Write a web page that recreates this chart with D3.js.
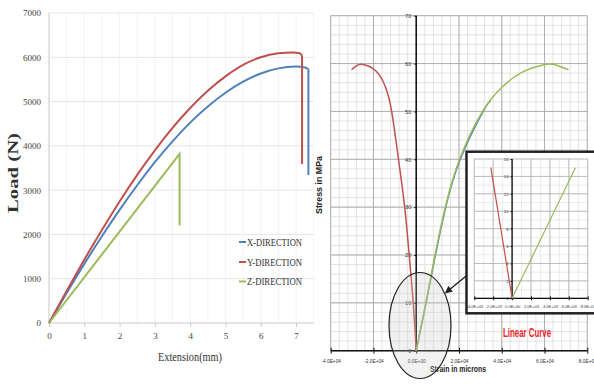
<!DOCTYPE html>
<html><head><meta charset="utf-8">
<script src="https://cdn.jsdelivr.net/npm/d3@7"></script>
<style>body{margin:0;background:#fff}svg{display:block}</style>
</head><body>
<svg id="c" width="594" height="386"></svg>
<script>
// ---------- Left chart data (Load vs Extension) ----------
const extX  = [0,0.5,1,1.5,2,2.5,3,3.5,4,4.5,5,5.5,6,6.5,7,7.25,7.35,7.35];
const loadX = [0,680,1335,1960,2555,3110,3630,4100,4525,4890,5200,5450,5635,5750,5790,5770,5730,3340];
const extY  = [0,0.5,1,1.5,2,2.5,3,3.5,4,4.5,5,5.5,6,6.5,6.9,7.1,7.17,7.17];
const loadY = [0,725,1430,2100,2745,3345,3900,4405,4855,5245,5570,5830,6000,6090,6110,6090,6040,3590];
const extZ  = [0,3.7,3.7];
const loadZ = [0,3820,2200];
const seriesNames = ["X-DIRECTION","Y-DIRECTION","Z-DIRECTION"];
const seriesColors = ["#4f81bd","#c0504d","#9bbb59"];
const loadTicks = [0,1000,2000,3000,4000,5000,6000,7000];
const extTicks = [0,1,2,3,4,5,6,7];

// ---------- Right chart data (Stress vs Strain) ----------
const strainRed   = [0,-1400,-3300,-5400,-8300,-11500,-14300,-18500,-24800,-28000,-30300];
const stressRed   = [0,10,20,30,40,50,55,58.3,59.8,59.5,58.7];
const strainGreen = [0,4500,8800,13600,20300,31000,40000,48800,60300,66000,71200];
const stressGreen = [0,10,20,30,40,50,55,58,59.8,59.6,58.7];
const strainBlue  = [0,4600,8950,13800,20600,31300,35000];
const stressBlue  = [0,10,20,30,40,50,52.3];
const strainTicks = [-40000,-20000,0,20000,40000,60000,80000];
const strainLabels = ["-4.0E+04","-2.0E+04","0.0E+00","2.0E+04","4.0E+04","6.0E+04","8.0E+04"];
const stressTicks = [0,10,20,30,40,50,60,70];

// ---------- Inset data ----------
const insetStrainRed = [0,-2250];
const insetStressRed = [0,15];
const insetStrainGreen = [0,6700];
const insetStressGreen = [0,15];
const insetStrainTicks = [-4000,-2000,0,2000,4000,6000,8000];
const insetStrainLabels = ["-4.0E+03","-2.0E+03","0.0E+00","2.0E+03","4.0E+03","6.0E+03","8.0E+03"];
const insetStressTicks = [0,2,4,6,8,10,12,14,16];

const svg = d3.select("#c");
const zip = (a,b)=>a.map((v,i)=>[v,b[i]]);

// =============== LEFT CHART ===============
const xL = d3.scaleLinear().domain([0,7.5]).range([49,313.7]);
const yL = d3.scaleLinear().domain([0,7000]).range([323,13]);
const gL = svg.append("g");
gL.selectAll(".vg").data(d3.range(0.5,7.6,0.5)).join("line")
  .attr("x1",d=>xL(d)).attr("x2",d=>xL(d)).attr("y1",yL(7000)).attr("y2",yL(0))
  .attr("stroke","#f3f3f3").attr("stroke-width",1);
gL.selectAll(".hg").data(loadTicks.slice(1)).join("line")
  .attr("x1",xL(0)).attr("x2",xL(7.5)).attr("y1",d=>yL(d)).attr("y2",d=>yL(d))
  .attr("stroke","#e6e6e6").attr("stroke-width",1);
const gax = gL.append("g").attr("transform",`translate(0,${yL(0)})`)
  .call(d3.axisBottom(xL).tickValues(extTicks).tickSize(4).tickPadding(6).tickFormat(d3.format("d")));
const gay = gL.append("g").attr("transform",`translate(${xL(0)},0)`)
  .call(d3.axisLeft(yL).tickValues(loadTicks).tickSize(0).tickPadding(8).tickFormat(d3.format("d")));
[gax,gay].forEach(g=>{
  g.select(".domain").attr("stroke","#c8c8c8");
  g.selectAll(".tick line").attr("stroke","#c8c8c8");
  g.selectAll("text").attr("font-family","Liberation Serif").attr("font-size",9).attr("fill","#444");
});
gay.select(".domain").attr("d",`M0,${yL(7000)}V${yL(0)}`);
gax.select(".domain").attr("d",`M${xL(0)},0H${xL(7.5)}`);

const bodyLine = d3.line().x(d=>xL(d[0])).y(d=>yL(d[1])).curve(d3.curveMonotoneX);
const linL = d3.line().x(d=>xL(d[0])).y(d=>yL(d[1]));
function drawLoad(xs, ys, color){
  const pts = zip(xs, ys);
  const body = pts.slice(0, -1), drop = pts.slice(-2);
  gL.append("path").attr("d",bodyLine(body)).attr("fill","none").attr("stroke",color).attr("stroke-width",2);
  gL.append("path").attr("d",linL(drop)).attr("fill","none").attr("stroke",color).attr("stroke-width",2);
}
drawLoad(extX, loadX, seriesColors[0]);
drawLoad(extY, loadY, seriesColors[1]);
gL.append("path").attr("d",linL(zip(extZ,loadZ))).attr("fill","none").attr("stroke",seriesColors[2]).attr("stroke-width",2);

gL.append("text").attr("x",190).attr("y",361).attr("text-anchor","middle")
  .attr("font-family","Liberation Serif").attr("font-size",12.5).attr("fill","#333")
  .attr("textLength",64).attr("lengthAdjust","spacingAndGlyphs").text("Extension(mm)");
gL.append("text").attr("transform","translate(18,173) rotate(-90)").attr("text-anchor","middle")
  .attr("font-family","Liberation Serif").attr("font-weight","bold").attr("font-size",15).attr("fill","#333")
  .attr("textLength",80).attr("lengthAdjust","spacingAndGlyphs").text("Load (N)");

const legY = [242.5,262.5,282];
seriesNames.forEach((n,i)=>{
  gL.append("line").attr("x1",239).attr("x2",246).attr("y1",legY[i]-0.5).attr("y2",legY[i]-0.5)
    .attr("stroke",seriesColors[i]).attr("stroke-width",2);
  gL.append("text").attr("x",247).attr("y",legY[i]+3).attr("font-family","Liberation Serif")
    .attr("font-size",10).attr("fill","#333").attr("textLength",55).attr("lengthAdjust","spacingAndGlyphs").text(n);
});

// =============== RIGHT CHART ===============
const gR = svg.append("g");
gR.append("rect").attr("x",314).attr("y",0).attr("width",280).attr("height",386).attr("fill","#fff");
const xR = d3.scaleLinear().domain([-40000,80000]).range([330.7,587.3]);
const yR = d3.scaleLinear().domain([0,70]).range([350.7,15.7]);
gR.selectAll(".mx").data(d3.range(-40000,80001,4000)).join("line")
  .attr("x1",d=>xR(d)).attr("x2",d=>xR(d)).attr("y1",yR(70)).attr("y2",yR(0))
  .attr("stroke","#dcdcdc").attr("stroke-width",0.8);
gR.selectAll(".my").data(d3.range(0,70.1,2)).join("line")
  .attr("x1",xR(-40000)).attr("x2",xR(80000)).attr("y1",d=>yR(d)).attr("y2",d=>yR(d))
  .attr("stroke","#dcdcdc").attr("stroke-width",0.8);
gR.selectAll(".Mx").data(strainTicks).join("line")
  .attr("x1",d=>xR(d)).attr("x2",d=>xR(d)).attr("y1",yR(70)).attr("y2",yR(0))
  .attr("stroke","#a8a8a8").attr("stroke-width",0.9);
gR.selectAll(".My").data(stressTicks).join("line")
  .attr("x1",xR(-40000)).attr("x2",xR(80000)).attr("y1",d=>yR(d)).attr("y2",d=>yR(d))
  .attr("stroke","#a8a8a8").attr("stroke-width",0.9);
const gRx = gR.append("g").attr("transform",`translate(0,${yR(0)})`)
  .call(d3.axisBottom(xR).tickValues(strainTicks).tickSize(3).tickPadding(6).tickFormat((d,i)=>strainLabels[i]));
gRx.select(".domain").attr("stroke","#111").attr("stroke-width",1.5).attr("d",`M${xR(-40000)},0H${xR(80000)}`);
gRx.selectAll(".tick line").attr("stroke","#111").attr("y1",-3);
gRx.selectAll("text").attr("font-family","Liberation Sans").attr("font-size",4.8).attr("fill","#333");
const gRy = gR.append("g").attr("transform",`translate(${xR(0)},0)`)
  .call(d3.axisLeft(yR).tickValues(stressTicks).tickSize(2).tickPadding(3).tickFormat(d3.format("d")));
gRy.select(".domain").attr("stroke","#111").attr("stroke-width",1.5).attr("d",`M0,${yR(70)}V${yR(0)}`);
gRy.selectAll(".tick line").attr("stroke","#111");
gRy.selectAll("text").attr("font-family","Liberation Sans").attr("font-size",5.5).attr("fill","#333");

const lineR = d3.line().x(d=>xR(d[0])).y(d=>yR(d[1])).curve(d3.curveNatural);
gR.append("path").attr("d",lineR(zip(strainBlue,stressBlue))).attr("fill","none").attr("stroke","#4f81bd").attr("stroke-width",1.5);
gR.append("path").attr("d",lineR(zip(strainRed,stressRed))).attr("fill","none").attr("stroke","#c0504d").attr("stroke-width",1.5);
gR.append("path").attr("d",lineR(zip(strainGreen,stressGreen))).attr("fill","none").attr("stroke","#9bbb59").attr("stroke-width",1.5);

gR.append("text").attr("x",458).attr("y",372).attr("text-anchor","middle")
  .attr("font-family","Liberation Sans").attr("font-weight","bold").attr("font-size",8.5).attr("fill","#222")
  .attr("textLength",56).attr("lengthAdjust","spacingAndGlyphs").text("Strain in microns");
gR.append("text").attr("transform","translate(322,185) rotate(-90)").attr("text-anchor","middle")
  .attr("font-family","Liberation Sans").attr("font-weight","bold").attr("font-size",8.5).attr("fill","#222")
  .attr("textLength",58).attr("lengthAdjust","spacingAndGlyphs").text("Stress in MPa");

gR.append("ellipse").attr("cx",420).attr("cy",325.5).attr("rx",31).attr("ry",53)
  .attr("fill","rgba(200,200,200,0.25)").attr("stroke","#222").attr("stroke-width",1.2);

const defs = svg.append("defs");
defs.append("marker").attr("id","ah").attr("viewBox","0 0 10 10").attr("refX",8).attr("refY",5)
  .attr("markerWidth",5).attr("markerHeight",5).attr("orient","auto")
  .append("path").attr("d","M0,0L10,5L0,10z").attr("fill","#222");
gR.append("line").attr("x1",468).attr("y1",274.5).attr("x2",446).attr("y2",292.5)
  .attr("stroke","#222").attr("stroke-width",1.5).attr("marker-end","url(#ah)");

// =============== INSET ===============
const gI = svg.append("g");
gI.append("rect").attr("x",466.5).attr("y",151.7).attr("width",140).attr("height",161.6)
  .attr("fill","#fff").attr("stroke","#222").attr("stroke-width",2.5);
const xI = d3.scaleLinear().domain([-4000,8000]).range([474.3,587.7]);
const yI = d3.scaleLinear().domain([0,16]).range([298.3,159]);
gI.selectAll(".imx").data(d3.range(-4000,8001,1000)).join("line")
  .attr("x1",d=>xI(d)).attr("x2",d=>xI(d)).attr("y1",yI(16)).attr("y2",yI(0))
  .attr("stroke","#e2e2e2").attr("stroke-width",0.7);
gI.selectAll(".imy").data(d3.range(0,16.1,1)).join("line")
  .attr("x1",xI(-4000)).attr("x2",xI(8000)).attr("y1",d=>yI(d)).attr("y2",d=>yI(d))
  .attr("stroke","#e2e2e2").attr("stroke-width",0.7);
gI.selectAll(".iMx").data(insetStrainTicks).join("line")
  .attr("x1",d=>xI(d)).attr("x2",d=>xI(d)).attr("y1",yI(16)).attr("y2",yI(0))
  .attr("stroke","#b0b0b0").attr("stroke-width",0.8);
gI.selectAll(".iMy").data(insetStressTicks).join("line")
  .attr("x1",xI(-4000)).attr("x2",xI(8000)).attr("y1",d=>yI(d)).attr("y2",d=>yI(d))
  .attr("stroke","#b0b0b0").attr("stroke-width",0.8);
const gIx = gI.append("g").attr("transform",`translate(0,${yI(0)})`)
  .call(d3.axisBottom(xI).tickValues(insetStrainTicks).tickSize(2).tickPadding(5).tickFormat((d,i)=>insetStrainLabels[i]));
gIx.select(".domain").attr("stroke","#111").attr("stroke-width",1.3).attr("d",`M${xI(-4000)},0H${xI(8000)}`);
gIx.selectAll(".tick line").attr("stroke","#111").attr("y1",-2);
gIx.selectAll("text").attr("font-family","Liberation Sans").attr("font-size",4).attr("fill","#333");
const gIy = gI.append("g").attr("transform",`translate(${xI(0)},0)`)
  .call(d3.axisLeft(yI).tickValues(insetStressTicks).tickSize(1.5).tickPadding(2).tickFormat(d3.format("d")));
gIy.select(".domain").attr("stroke","#111").attr("stroke-width",1.3).attr("d",`M0,${yI(16)}V${yI(0)}`);
gIy.selectAll(".tick line").attr("stroke","#111");
gIy.selectAll("text").attr("font-family","Liberation Sans").attr("font-size",4.3).attr("fill","#333");
const lineI = d3.line().x(d=>xI(d[0])).y(d=>yI(d[1]));
gI.append("path").attr("d",lineI(zip(insetStrainRed,insetStressRed))).attr("fill","none").attr("stroke","#c0504d").attr("stroke-width",1.2);
gI.append("path").attr("d",lineI(zip(insetStrainGreen,insetStressGreen))).attr("fill","none").attr("stroke","#9bbb59").attr("stroke-width",1.2);

svg.append("text").attr("x",527).attr("y",337).attr("text-anchor","middle")
  .attr("font-family","Liberation Sans Narrow, Liberation Sans").attr("font-weight","bold").attr("font-size",12)
  .attr("fill","#e8262b").attr("textLength",48).attr("lengthAdjust","spacingAndGlyphs").text("Linear Curve");
</script>
</body></html>
